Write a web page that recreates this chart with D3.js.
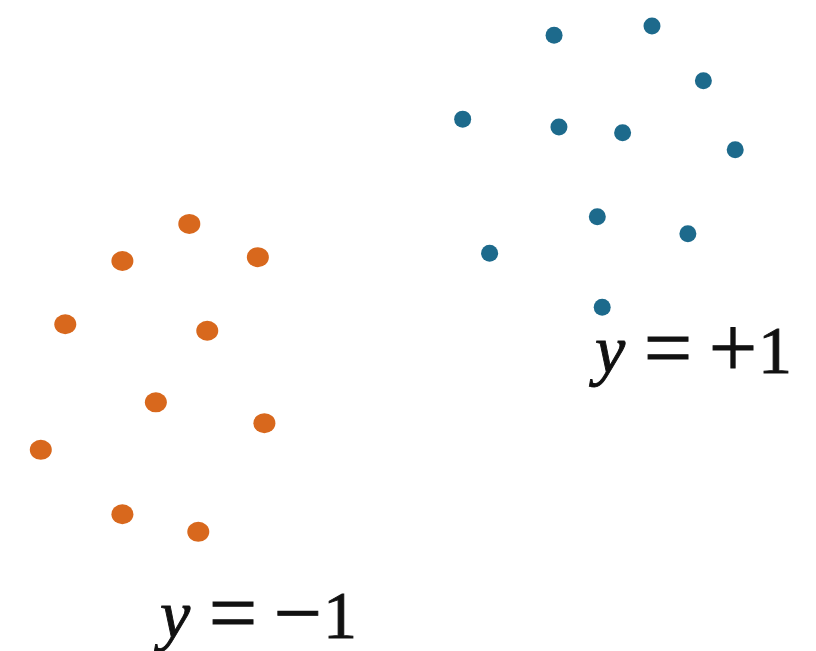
<!DOCTYPE html>
<html>
<head>
<meta charset="utf-8">
<script src="https://cdn.jsdelivr.net/npm/d3@7"></script>
<style>
    html, body { margin: 0; padding: 0; background: #fff; }
    svg { display: block; }
</style>
</head>
<body>
<div id="chart"></div>
<script>
// feature coordinates of the two classes (0..100 on both axes)
const posX = [67.9, 79.9, 86.2, 56.7, 68.5, 76.3, 90.1, 73.2, 84.3, 60.0, 73.8];
const posY = [94.6, 96.0, 87.6, 81.7, 80.5, 79.6, 77.0, 66.7, 64.1, 61.1, 52.8];
const negX = [23.2, 15.0, 31.6, 8.0, 25.4, 19.1, 32.4, 5.0, 15.0, 24.3];
const negY = [65.6, 59.9, 60.5, 50.2, 49.2, 38.2, 35.0, 30.9, 21.0, 18.3];
const classSigns = ["+", "\u2212"];

const ctx = {
    W: 816,
    H: 651,
    blue: "#1d6a8c",
    orange: "#d8681d",
};

function drawPoints(g, xs, ys, color, rx, ry, x, y) {
    g.append("g")
        .selectAll("ellipse")
        .data(xs.map((v, i) => ({ x: v, y: ys[i] })))
        .enter()
        .append("ellipse")
        .attr("cx", (d) => x(d.x))
        .attr("cy", (d) => y(d.y))
        .attr("rx", rx)
        .attr("ry", ry)
        .attr("fill", color);
}

function drawLabel(svgEl, sign, left, baseline) {
    const t = svgEl
        .append("text")
        .attr("y", baseline)
        .attr("text-anchor", "middle")
        .style("font-family", "'Liberation Serif', 'DejaVu Serif', serif")
        .style("font-size", "68px")
        .attr("fill", "#111")
        .attr("stroke", "#111")
        .attr("stroke-width", 0.9);
    t.append("tspan").attr("x", left + 20).style("font-style", "italic").text("y");
    t.append("tspan").attr("x", left + 78).attr("y", baseline + 4)
        .style("font-size", "86px").text("=");
    t.append("tspan").attr("x", left + 143).attr("y", baseline + 4)
        .style("font-size", "86px").text(sign);
    t.append("tspan").attr("x", left + 185).attr("y", baseline).text("1");
}

function createViz() {
    const svgEl = d3
        .select("#chart")
        .append("svg")
        .attr("width", ctx.W)
        .attr("height", ctx.H);

    const x = d3.scaleLinear().domain([0, 100]).range([0, ctx.W]);
    const y = d3.scaleLinear().domain([0, 100]).range([ctx.H, 0]);

    drawPoints(svgEl, posX, posY, ctx.blue, 8.5, 8.5, x, y);
    drawPoints(svgEl, negX, negY, ctx.orange, 11, 10, x, y);

    drawLabel(svgEl, classSigns[0], 590, 373);
    drawLabel(svgEl, classSigns[1], 155, 638);
}

createViz();
</script>
</body>
</html>
